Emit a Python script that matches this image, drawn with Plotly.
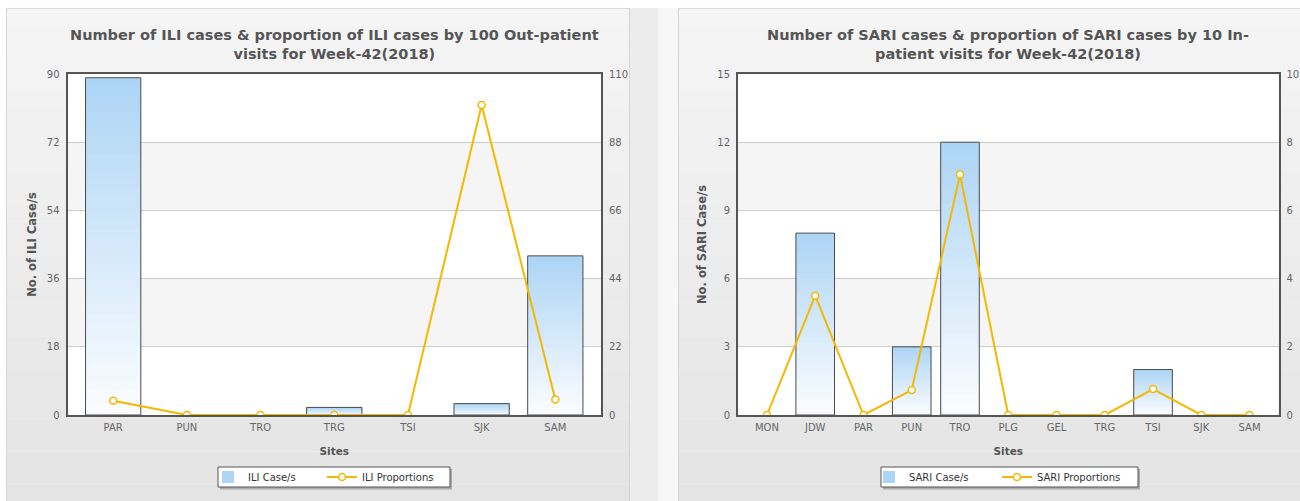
import plotly.graph_objects as go

# ---------------- data ----------------
ili_sites = ["PAR", "PUN", "TRO", "TRG", "TSI", "SJK", "SAM"]
ili_cases = [89, 0, 0, 2, 0, 3, 42]
ili_prop = [4.6, 0, 0, 0, 0, 100, 5.0]
ili_left_ticks = [0, 18, 36, 54, 72, 90]
ili_right_ticks = [0, 22, 44, 66, 88, 110]

sari_sites = ["MON", "JDW", "PAR", "PUN", "TRO", "PLG", "GEL", "TRG", "TSI", "SJK", "SAM"]
sari_cases = [0, 8, 0, 3, 12, 0, 0, 0, 2, 0, 0]
sari_prop = [0, 3.5, 0, 0.73, 7.05, 0, 0, 0, 0.76, 0, 0]
sari_left_ticks = [0, 3, 6, 9, 12, 15]
sari_right_ticks = [0, 2, 4, 6, 8, 10]

ili_title = "Number of ILI cases & proportion of ILI cases by 100 Out-patient<br>visits for Week-42(2018)"
sari_title = "Number of SARI cases & proportion of SARI cases by 10 In-<br>patient visits for Week-42(2018)"

# ---------------- style ----------------
W, H = 1300, 501
FONT = "DejaVu Sans"
LINE_COL = "#f5b800"
FRAME_COL = "#555555"
TOP_RGB = (172, 213, 246)
BOT_RGB = (252, 253, 255)
NSEG = 40


def px(x):
    return x / W


def py(y):
    return 1 - y / H


fig = go.Figure()
shapes = []

# page / panel backgrounds
shapes.append(dict(type="rect", xref="paper", yref="paper", x0=0, x1=1, y0=0, y1=1,
                   fillcolor="#ffffff", line_width=0, layer="below"))
shapes.append(dict(type="rect", xref="paper", yref="paper", x0=px(630), x1=px(658), y0=0, y1=py(8),
                   fillcolor="#ececec", line_width=0, layer="below"))
shapes.append(dict(type="rect", xref="paper", yref="paper", x0=px(658), x1=px(678), y0=0, y1=py(8),
                   fillcolor="#f7f7f7", line_width=0, layer="below"))
NS = 30
for (a, b) in [(6, 630), (678, 1300)]:
    for i in range(NS):
        y0 = 8 + (H - 8) * i / NS
        y1 = 8 + (H - 8) * (i + 1) / NS
        t = i / (NS - 1)
        c = int(round(245 - t * 17))
        shapes.append(dict(type="rect", xref="paper", yref="paper", x0=px(a), x1=px(b),
                           y0=py(y1), y1=py(y0) + 0.0005, fillcolor=f"rgb({c},{c},{c})",
                           line_width=0, layer="below"))
    shapes.append(dict(type="line", xref="paper", yref="paper", x0=px(a + 0.5), x1=px(a + 0.5),
                       y0=0, y1=py(8), line=dict(color="#d4d4d4", width=1), layer="below"))
    shapes.append(dict(type="line", xref="paper", yref="paper", x0=px(a), x1=px(b),
                       y0=py(8.5), y1=py(8.5), line=dict(color="#dddddd", width=1), layer="below"))
shapes.append(dict(type="line", xref="paper", yref="paper", x0=px(629.5), x1=px(629.5),
                   y0=0, y1=py(8), line=dict(color="#d4d4d4", width=1), layer="below"))

# legend boxes (drawn as shapes, legend itself transparent)
for (a, b) in [(218, 450), (881, 1138)]:
    shapes.append(dict(type="rect", xref="paper", yref="paper", x0=px(a + 2), x1=px(b + 2),
                       y0=py(489.5), y1=py(469), fillcolor="rgba(0,0,0,0.25)", line_width=0,
                       layer="above"))
    shapes.append(dict(type="rect", xref="paper", yref="paper", x0=px(a), x1=px(b),
                       y0=py(487), y1=py(467), fillcolor="#ffffff",
                       line=dict(color="#555555", width=1), layer="above"))


def add_chart(sites, cases, prop, lt, rt, xa, ya, ya2, name_bar, name_line, legend, bw):
    # alternating plot bands
    for k in range(len(lt) - 1):
        col = "#f5f5f5" if k in (1, 3) else "#ffffff"
        shapes.append(dict(type="rect", xref=f"{xa} domain", yref=ya, x0=0, x1=1,
                           y0=lt[k], y1=lt[k + 1], fillcolor=col, line_width=0, layer="below"))
    # gradient bars built from stacked, slightly overlapping slices
    for i in range(NSEG):
        t = (i + 0.5) / NSEG  # 0 bottom -> 1 top
        r = int(BOT_RGB[0] + (TOP_RGB[0] - BOT_RGB[0]) * t)
        g = int(BOT_RGB[1] + (TOP_RGB[1] - BOT_RGB[1]) * t)
        b = int(BOT_RGB[2] + (TOP_RGB[2] - BOT_RGB[2]) * t)
        hfac = 1.0 if i == NSEG - 1 else 1.8
        fig.add_trace(go.Bar(
            x=sites, y=[v * hfac / NSEG for v in cases], base=[v * i / NSEG for v in cases],
            width=bw, marker=dict(color=f"rgb({r},{g},{b})", line_width=0),
            xaxis=xa, yaxis=ya, name=name_bar, showlegend=(i == NSEG - 1),
            legend=legend, hoverinfo="skip"))
    fig.add_trace(go.Bar(
        x=sites, y=[v if v > 0 else None for v in cases], width=bw,
        marker=dict(color="rgba(0,0,0,0)", line=dict(color="#4a4a4a", width=1)),
        xaxis=xa, yaxis=ya, showlegend=False, name=name_bar))
    fig.add_trace(go.Scatter(
        x=sites, y=prop, mode="lines+markers", name=name_line,
        line=dict(color=LINE_COL, width=2),
        marker=dict(symbol="circle", size=7, color="#ffffff",
                    line=dict(color=LINE_COL, width=1.5)),
        xaxis=xa, yaxis=ya2, legend=legend))


add_chart(ili_sites, ili_cases, ili_prop, ili_left_ticks, ili_right_ticks,
          "x", "y", "y2", "ILI Case/s", "ILI Proportions", "legend", 0.75)
add_chart(sari_sites, sari_cases, sari_prop, sari_left_ticks, sari_right_ticks,
          "x2", "y3", "y4", "SARI Case/s", "SARI Proportions", "legend2", 0.8)

ydom = [py(415), py(74)]
tickfont = dict(family=FONT, size=10, color="#666666")
axis_common = dict(showline=True, linecolor=FRAME_COL, linewidth=2, ticks="",
                   tickfont=tickfont, fixedrange=True, automargin=False)


def yax(ticks, side, anchor, overlay=None, title=None, grid=True):
    d = dict(axis_common, range=[ticks[0], ticks[-1]], tickvals=ticks, side=side,
             anchor=anchor, domain=ydom, showgrid=grid, gridcolor="#cccccc", gridwidth=1,
             zeroline=False, ticklabelstandoff=4)
    if overlay:
        d["overlaying"] = overlay
    if title:
        d["title"] = dict(text=title, font=dict(family=FONT, size=11.5, color="#555555"),
                          standoff=8)
    return d


xcommon = dict(axis_common, mirror=True, type="category", zeroline=False, showgrid=False,
               tickfont=dict(family=FONT, size=10, color="#666666"), ticklabelstandoff=2)


def xtitle():
    return dict(text="<b>Sites</b>", font=dict(family=FONT, size=10.5, color="#555555"),
                standoff=16)


legend_common = dict(orientation="h", xanchor="left", y=py(477), yanchor="middle",
                     bgcolor="rgba(0,0,0,0)", borderwidth=0,
                     font=dict(family=FONT, size=10, color="#333333"), itemwidth=30,
                     tracegroupgap=0)

fig.update_layout(
    width=W, height=H, margin=dict(l=0, r=0, t=0, b=0, pad=0, autoexpand=False),
    paper_bgcolor="#ffffff", plot_bgcolor="rgba(0,0,0,0)",
    barmode="overlay",
    font=dict(family=FONT, color="#555555"),
    xaxis=dict(xcommon, domain=[px(67.5), px(601)], anchor="y",
               range=[-0.62, len(ili_sites) - 0.38], title=xtitle()),
    xaxis2=dict(xcommon, domain=[px(738), px(1278.5)], anchor="y3",
                range=[-0.6, len(sari_sites) - 0.4], title=xtitle()),
    yaxis=yax(ili_left_ticks, "left", "x", title="<b>No. of ILI Case/s</b>"),
    yaxis2=yax(ili_right_ticks, "right", "x", overlay="y", grid=False),
    yaxis3=yax(sari_left_ticks, "left", "x2", title="<b>No. of SARI Case/s</b>"),
    yaxis4=yax(sari_right_ticks, "right", "x2", overlay="y3", grid=False),
    legend=dict(legend_common, x=px(208), entrywidth=69),
    legend2=dict(legend_common, x=px(869), entrywidth=83),
    shapes=shapes,
    annotations=[
        dict(text=f"<b>{ili_title}</b>", xref="paper", yref="paper", x=px(334), y=py(25),
             xanchor="center", yanchor="top", showarrow=False, align="center",
             font=dict(family=FONT, size=14.5, color="#555555")),
        dict(text=f"<b>{sari_title}</b>", xref="paper", yref="paper", x=px(1008), y=py(25),
             xanchor="center", yanchor="top", showarrow=False, align="center",
             font=dict(family=FONT, size=14.5, color="#555555")),
    ],
)

fig.write_html("out.html", config={"displayModeBar": False},
               post_script="document.body.style.margin='0px';")
